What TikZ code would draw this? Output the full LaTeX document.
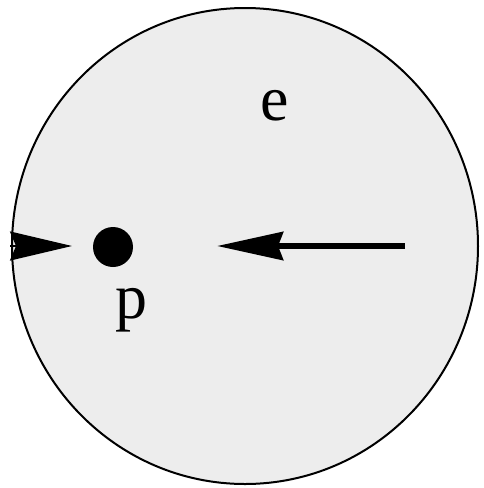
\documentclass[tikz,border=0pt]{standalone}
\usepackage{fontspec}
\setmainfont{Liberation Serif}
\usetikzlibrary{positioning, arrows.meta}

\tikzset{
  disk/.style={draw, line width=1pt, fill=black!7},
  particle/.style={circle, fill=black, inner sep=0pt, minimum size=20pt},
  letter/.style={anchor=base, font=\fontsize{32}{38}\selectfont},
}

\begin{document}
\begin{tikzpicture}[x=0.5pt, y=-0.5pt]
      \useasboundingbox (0,0) rectangle (483,488);

      % Region
      \draw[disk] (245,246) ellipse [x radius=233, y radius=238];
      \node[letter] (elabel) at (275,120) {e};

      % Particle
      \node[particle] (p) at (113,247) {};
      \node[letter] (plabel) at (131,318) {p};

      % Incoming from the left
      \coordinate (inL) at (10,246);
      \coordinate (tipL) at (72,246);
      \draw[line width=1pt, -{Stealth[length=31pt, width=14.5pt, inset=3pt]}] (inL) -- (tipL);

      % Arrow from the right
      \coordinate (tailR) at (405,246);
      \coordinate (tipR) at (217,246);
      \draw[line width=3pt, -{Stealth[length=33pt, width=14pt, inset=2.5pt]}] (tailR) -- (tipR);
    \end{tikzpicture}
\end{document}
